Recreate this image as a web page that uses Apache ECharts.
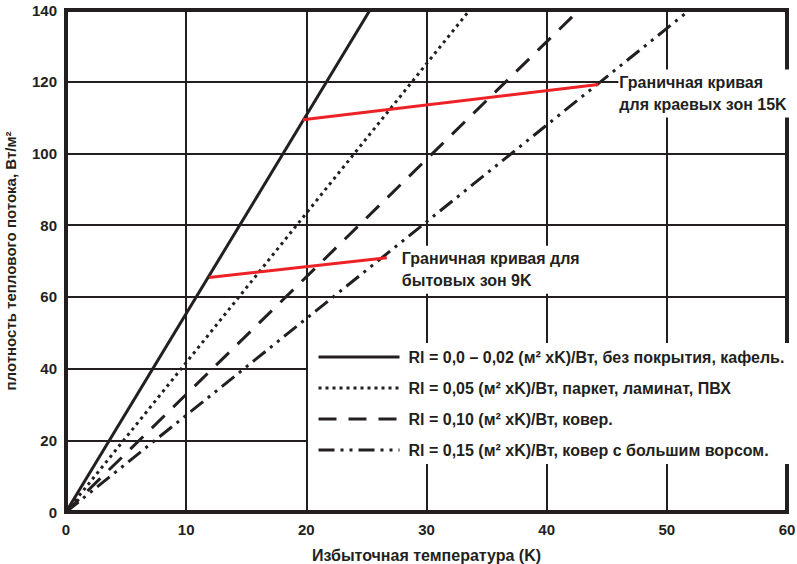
<!DOCTYPE html>
<html>
<head>
<meta charset="utf-8">
<script src="https://cdn.jsdelivr.net/npm/echarts@6/dist/echarts.min.js"></script>
<style>
  html, body { margin: 0; padding: 0; background: #fff; }
  #chart { width: 797px; height: 564px; }
</style>
</head>
<body>
<div id="chart"></div>
<script>
// curves: heat flux vs. excess temperature, end points
const solidPts = [[0, 0], [25.3, 140]];
const dottedPts = [[0, 0], [33.6, 140]];
const dashedPts = [[0, 0], [42.7, 140]];
const dashDotPts = [[0, 0], [51.9, 140]];
const limit9K = [[11.9, 65.4], [26.7, 70.9]];
const limit15K = [[19.7, 109.4], [44.3, 119.2]];

const seriesNames = [
  "Rl = 0,0 – 0,02 (м² xK)/Вт, без покрытия, кафель.",
  "Rl = 0,05 (м² xK)/Вт, паркет, ламинат, ПВХ",
  "Rl = 0,10 (м² xK)/Вт, ковер.",
  "Rl = 0,15 (м² xK)/Вт, ковер с большим ворсом."
];
const label9K = "Граничная кривая для\nбытовых зон 9K";
const label15K = "Граничная кривая\nдля краевых зон 15K";

const ink = "#231f20";
const red = "#ec2227";
const font = "Liberation Sans, Arial, sans-serif";

const chart = echarts.init(document.getElementById("chart"), null, { renderer: "svg" });

function curve(name, data, type) {
  return {
    name,
    type: "line",
    data,
    symbol: "none",
    silent: true,
    z: 3,
    lineStyle: { color: ink, width: 3, type, cap: "butt" },
    itemStyle: { color: ink }
  };
}

function limit(data, text, offset) {
  return {
    name: text,
    type: "line",
    data,
    symbol: "none",
    silent: true,
    z: 4,
    lineStyle: { color: red, width: 3 },
    itemStyle: { color: red },
    endLabel: {
      show: true,
      formatter: text,
      offset,
      color: ink,
      fontFamily: font,
      fontWeight: "bold",
      fontSize: 16,
      lineHeight: 22,
      align: "left",
      backgroundColor: "#fff",
      padding: [2, 3, 2, 1]
    }
  };
}

chart.setOption({
  animation: false,
  grid: {
    left: 66, right: 10, top: 10, bottom: 52,
    outerBoundsMode: "none",
    show: true, borderColor: ink, borderWidth: 4, backgroundColor: "transparent"
  },
  legend: {
    data: seriesNames,
    orient: "vertical",
    left: 308,
    top: 343,
    backgroundColor: "#fff",
    padding: [6, 6, 6, 9],
    itemWidth: 81,
    itemHeight: 14,
    itemGap: 15,
    selectedMode: false,
    itemStyle: { opacity: 0 },
    lineStyle: { width: 3 },
    textStyle: { color: ink, fontFamily: font, fontWeight: "bold", fontSize: 16, padding: [0, 0, 0, 4] }
  },
  xAxis: {
    type: "value",
    min: 0, max: 60, interval: 10,
    name: "Избыточная температура (K)",
    nameLocation: "middle",
    nameGap: 35,
    nameTextStyle: { color: ink, fontFamily: font, fontWeight: "bold", fontSize: 16 },
    axisLine: { show: true, lineStyle: { color: ink, width: 4 } },
    axisTick: { show: false },
    axisLabel: { color: ink, fontFamily: font, fontWeight: "bold", fontSize: 15, margin: 10 },
    splitLine: { show: true, lineStyle: { color: ink, width: 2 } }
  },
  yAxis: {
    type: "value",
    min: 0, max: 140, interval: 20,
    name: "плотность теплового потока, Вт/м²",
    nameLocation: "middle",
    nameGap: 48,
    nameTextStyle: { color: ink, fontFamily: font, fontWeight: "bold", fontSize: 15 },
    axisLine: { show: true, lineStyle: { color: ink, width: 4 } },
    axisTick: { show: false },
    axisLabel: { color: ink, fontFamily: font, fontWeight: "bold", fontSize: 15, margin: 9 },
    splitLine: { show: true, lineStyle: { color: ink, width: 2 } }
  },
  series: [
    curve(seriesNames[0], solidPts, "solid"),
    curve(seriesNames[1], dottedPts, [3, 4]),
    curve(seriesNames[2], dashedPts, [18, 12]),
    curve(seriesNames[3], dashDotPts, [16, 6, 3, 6, 3, 6]),
    limit(limit9K, label9K, [6, 12]),
    limit(limit15K, label15K, [12, 9])
  ]
});
</script>
</body>
</html>
